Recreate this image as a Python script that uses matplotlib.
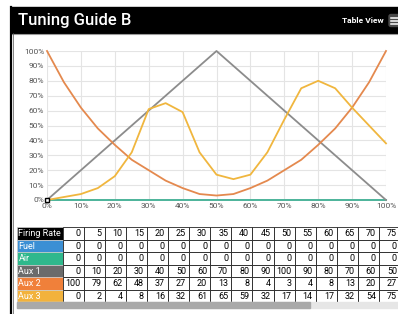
import numpy as np
import matplotlib
matplotlib.use("Agg")
import matplotlib.pyplot as plt
from matplotlib.patches import Rectangle, FancyBboxPatch

plt.rcParams["font.family"] = ["Roboto", "DejaVu Sans"]

# ── data ──────────────────────────────────────────────
firing_rate = [0, 5, 10, 15, 20, 25, 30, 35, 40, 45, 50, 55, 60, 65, 70, 75, 80, 85, 90, 95, 100]
fuel = [0] * 21
air = [0] * 21
aux1 = [0, 10, 20, 30, 40, 50, 60, 70, 80, 90, 100, 90, 80, 70, 60, 50, 40, 30, 20, 10, 0]
aux2 = [100, 79, 62, 48, 37, 27, 20, 13, 8, 4, 3, 4, 8, 13, 20, 27, 37, 48, 62, 79, 100]
aux3 = [0, 2, 4, 8, 16, 32, 61, 65, 59, 32, 17, 14, 17, 32, 54, 75, 80, 75, 62, 50, 38]

series_names = ["Fuel", "Air", "Aux 1", "Aux 2", "Aux 3"]
series_vals = [fuel, air, aux1, aux2, aux3]
label_colors = ["#3b8fd4", "#2fb88c", "#6b6b6b", "#f0803a", "#f2b23c"]
line_colors = ["#4fb59c", "#4fb59c", "#8c8c8c", "#e4894e", "#f0b63e"]

W, H = 398, 314
fig = plt.figure(figsize=(W / 100, H / 100), dpi=100)

# overlay in pixel coords for header / border / table
ov = fig.add_axes([0, 0, 1, 1])
ov.set_xlim(0, W)
ov.set_ylim(H, 0)
ov.axis("off")

# header bar
ov.add_patch(Rectangle((11, 7), W - 11, 26, color="black", zorder=1))
ov.plot([11, W], [33.5, 33.5], color="#9a9a9a", lw=0.8, zorder=2)
ov.text(18, 21, "Tuning Guide B", color="white", fontsize=12, fontweight="medium",
        va="center", ha="left", zorder=3)
ov.text(384, 20.5, "Table View", color="white", fontsize=6, fontweight="bold",
        va="center", ha="right", zorder=3)
ov.add_patch(FancyBboxPatch((389, 14.5), 12, 12, boxstyle="round,pad=0,rounding_size=2",
                            color="#4a4a4a", zorder=3))
for yy in (17.5, 20.5, 23.5):
    ov.plot([391, 398], [yy, yy], color="white", lw=1.1, zorder=4)

# left border
ov.plot([11, 11], [7, H], color="black", lw=1.6, zorder=2)
ov.plot([13.2, 13.2], [33, H], color="#555555", lw=0.5, zorder=2)

# table
tx0, lab_w, col_w = 17, 45.5, 21.1
ty0, row_h = 227, 12.5
rows = [("Firing Rate", "black", firing_rate)] + list(zip(series_names, label_colors, series_vals))
for r, (name, col, vals) in enumerate(rows):
    y = ty0 + r * row_h
    ov.add_patch(Rectangle((tx0, y), lab_w, row_h, facecolor=col, edgecolor="#cccccc",
                           lw=0.5, zorder=2))
    ov.text(tx0 + 1.5, y + row_h / 2 + 0.3, name, color="white", fontsize=6.5,
            va="center", ha="left", zorder=3)
    for c in range(16):
        x = tx0 + lab_w + c * col_w
        ov.add_patch(Rectangle((x, y), col_w, row_h, facecolor="white", edgecolor="#222222",
                               lw=0.6, zorder=2))
        ov.text(x + col_w - 3, y + row_h / 2 + 0.3, str(vals[c]), color="black",
                fontsize=6.5, va="center", ha="right", zorder=3)
# scrollbar
ov.add_patch(Rectangle((tx0, ty0 + 6 * row_h), W - tx0, 6, color="#e6e6e6", zorder=2))
ov.add_patch(Rectangle((tx0, ty0 + 6 * row_h), 293, 6, color="#a9a9a9", zorder=3))

# chart
ax = fig.add_axes([47 / W, 1 - 200 / H, 339 / W, 149 / H])
ax.set_facecolor("none")
for name, vals, col in zip(series_names, series_vals, line_colors):
    ax.plot(firing_rate, vals, color=col, lw=1.3, clip_on=False, zorder=3)
ax.plot([0], [0], marker="s", ms=3.5, mfc="white", mec="black", mew=1.0,
        clip_on=False, zorder=5)
ax.set_xlim(0, 100)
ax.set_ylim(0, 100)
ticks = np.arange(0, 101, 10)
ax.set_xticks(ticks)
ax.set_yticks(ticks)
ax.set_xticklabels([f"{t}%" for t in ticks])
ax.set_yticklabels([f"{t}%" for t in ticks])
ax.tick_params(length=0, labelsize=6, colors="#555555", pad=2)
ax.grid(True, color="#e4e4e4", lw=0.8)
ax.set_axisbelow(True)
for s in ax.spines.values():
    s.set_visible(False)

fig.savefig("out.png", dpi=100)
